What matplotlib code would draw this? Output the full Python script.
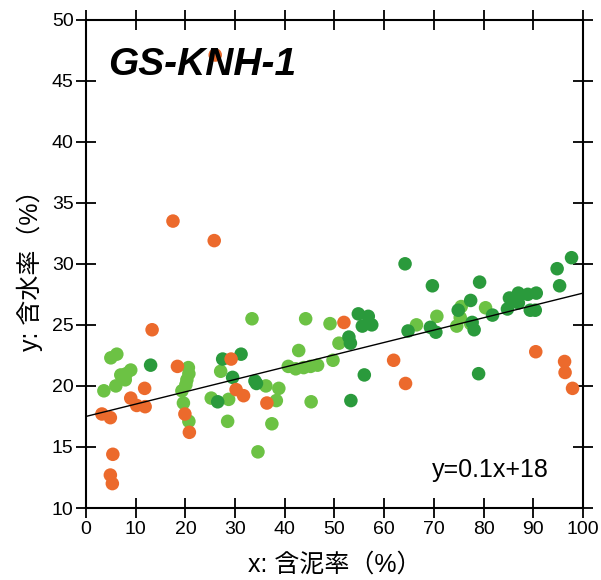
import matplotlib
matplotlib.use("Agg")
import matplotlib.pyplot as plt
import numpy as np

plt.rcParams['font.family'] = ['Liberation Sans', 'Noto Sans CJK JP', 'DejaVu Sans']

# orange points (x: mud content %, y: water content %)
orange_x = [26.0, 17.5, 25.8, 13.3, 51.9, 29.2, 18.4, 61.9, 64.3, 90.5, 96.3, 96.4, 97.9,
            11.8, 9.0, 10.2, 11.9, 3.2, 4.9, 30.2, 31.7, 36.4, 19.9, 20.8, 5.4, 4.9, 5.3]
orange_y = [47.1, 33.5, 31.9, 24.6, 25.2, 22.2, 21.6, 22.1, 20.2, 22.8, 22.0, 21.1, 19.8,
            19.8, 19.0, 18.4, 18.3, 17.7, 17.4, 19.7, 19.2, 18.6, 17.7, 16.2, 14.4, 12.7, 12.0]

# light green points
light_x = [3.6, 5.0, 6.2, 6.0, 7.0, 7.9, 8.1, 9.0, 19.3, 20.1, 20.3, 20.6, 20.7, 19.6, 20.7,
           25.2, 27.1, 28.7, 28.5, 33.4, 34.6, 36.2, 37.4, 38.3, 38.8, 40.7, 42.2, 42.8,
           43.8, 44.2, 45.2, 45.3, 46.6, 49.1, 49.7, 50.9, 66.5, 70.6, 74.6, 75.5, 75.3,
           80.4, 77.4]
light_y = [19.6, 22.3, 22.6, 20.0, 20.9, 20.5, 21.0, 21.3, 19.6, 20.1, 20.5, 21.5, 21.0, 18.6,
           17.1, 19.0, 21.2, 18.9, 17.1, 25.5, 14.6, 20.0, 16.9, 18.8, 19.8, 21.6, 21.4, 22.9,
           21.5, 25.5, 21.6, 18.7, 21.7, 25.1, 22.1, 23.5, 25.0, 25.7, 24.9, 26.5, 25.6,
           26.4, 25.1]

# dark green points
dark_x = [13.0, 27.5, 31.2, 29.5, 26.5, 34.0, 34.3, 53.3, 52.9, 53.2, 54.8, 56.8, 55.6, 57.5,
          56.0, 64.2, 64.8, 69.7, 69.3, 70.4, 74.9, 77.4, 79.2, 78.1, 77.7, 79.0, 81.8, 84.8,
          85.2, 87.0, 87.0, 88.9, 90.6, 89.4, 90.4, 94.8, 95.3, 97.7]
dark_y = [21.7, 22.2, 22.6, 20.7, 18.7, 20.4, 20.2, 18.8, 24.0, 23.5, 25.9, 25.7, 24.9, 25.0,
          20.9, 30.0, 24.5, 28.2, 24.8, 24.4, 26.2, 27.0, 28.5, 24.6, 25.2, 21.0, 25.8, 26.3,
          27.2, 27.6, 26.8, 27.5, 27.6, 26.2, 26.2, 29.6, 28.2, 30.5]

# regression line
fit_slope = 0.101
fit_intercept = 17.5
fit_label = "y=0.1x+18"
title = "GS-KNH-1"

fig = plt.figure(figsize=(6.01, 5.80), dpi=100)
ax = fig.add_axes([0.1431, 0.1241, 0.8269, 0.8421])

ms = 95
ax.scatter(light_x, light_y, s=ms, color="#6cc244", edgecolors="none", zorder=3)
ax.scatter(dark_x, dark_y, s=ms, color="#2a9a3c", edgecolors="none", zorder=3)
ax.scatter(orange_x, orange_y, s=ms, color="#ec6a2c", edgecolors="none", zorder=3)

xs = np.array([0, 100])
ax.plot(xs, fit_slope * xs + fit_intercept, color="black", lw=1.0, zorder=4)

ax.set_xlim(0, 100)
ax.set_ylim(10, 50)
ax.set_xticks(range(0, 101, 10))
ax.set_yticks(range(10, 51, 5))
ax.tick_params(direction="inout", length=14, width=1.3, labelsize=14,
               top=True, right=True, pad=2)
for sp in ax.spines.values():
    sp.set_linewidth(1.5)

ax.text(4.4, 45.5, title, fontsize=28, fontweight="bold", fontstyle="italic",
        ha="left", va="baseline", zorder=5)
ax.text(69.6, 12.55, fit_label, fontsize=18, ha="left", va="baseline")

ax.set_xlabel("x: 含泥率（%）", fontsize=18, labelpad=11)
ax.set_ylabel("y: 含水率（%）", fontsize=18, labelpad=6)

fig.savefig("out.png", dpi=100)
